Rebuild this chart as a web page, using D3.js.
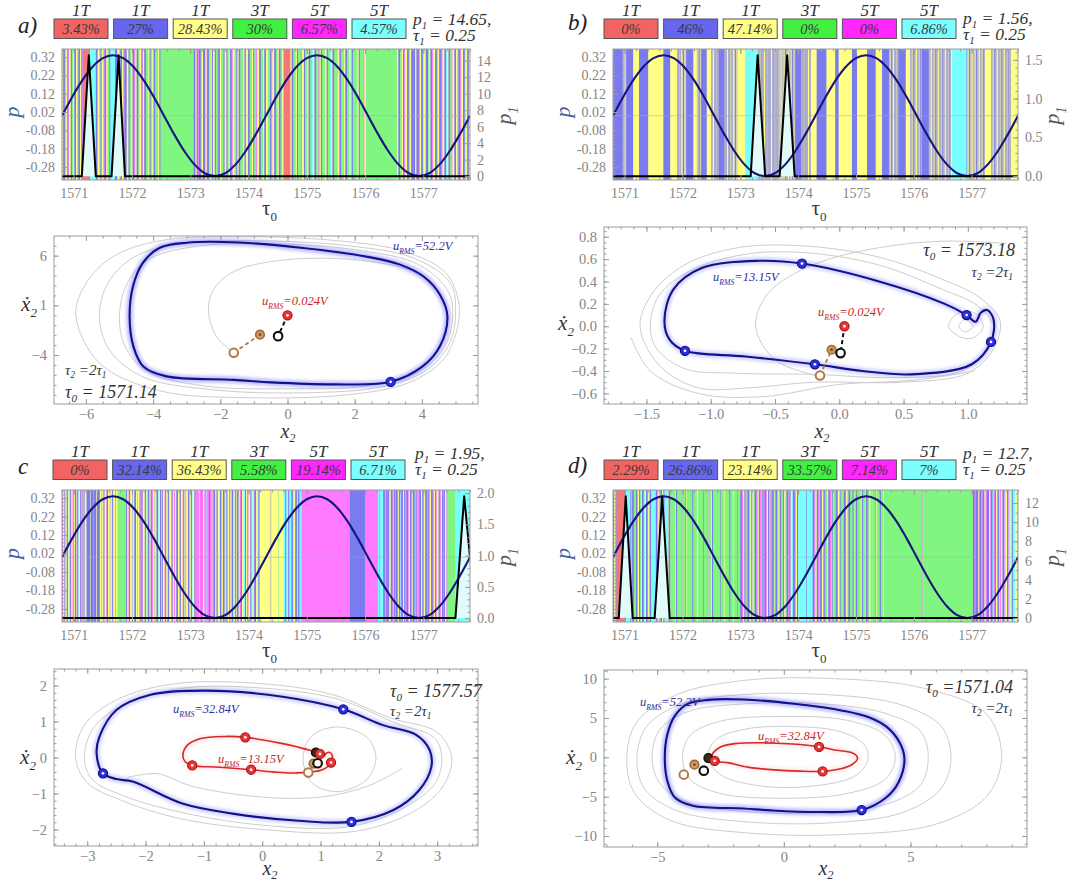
<!DOCTYPE html>
<html>
<head>
<meta charset="utf-8">
<script src="https://cdn.jsdelivr.net/npm/d3@7"></script>
<style>
  body { margin: 0; background: #fff; }
  svg { display: block; }
  text { font-family: "Liberation Serif", "DejaVu Serif", serif; }
</style>
</head>
<body>
<svg id="fig" width="1091" height="882"></svg>
<script>
// ---------------- data ----------------
const tauStart = 1570.8;        // first sample of the τ0 scan
const tauStep = 0.01;           // one sample of the regime strip
const tauTicks = [1571, 1572, 1573, 1574, 1575, 1576, 1577];
const pTicks = [0.32, 0.22, 0.12, 0.02, -0.08, -0.18, -0.28];
const tau1 = 0.25;

const regimeKeys = ["R", "B", "Y", "G", "M", "C"];
const regimeNames = ["1T", "1T", "1T", "3T", "5T", "5T"];

const sharesA = [3.43, 27, 28.43, 30, 6.57, 4.57];
const sharesB = [0, 46, 47.14, 0, 0, 6.86];
const sharesC = [0, 32.14, 36.43, 5.58, 19.14, 6.71];
const sharesD = [2.29, 26.86, 23.14, 33.57, 7.14, 7];

const p1MaxA = 14.65, p1MaxB = 1.56, p1MaxC = 1.95, p1MaxD = 12.7;
const p1TicksA = [0, 2, 4, 6, 8, 10, 12, 14];
const p1TicksB = [0, 0.5, 1.0, 1.5];
const p1TicksC = [0, 0.5, 1.0, 1.5, 2.0];
const p1TicksD = [0, 2, 4, 6, 8, 10, 12];

// regime of each τ0 sample, run-length coded (letter + number of samples)
const bandsA =
  "Y2 B3 G2 Y2 B2 M1 Y3 B2 G2 Y2 B3 Y2 G2 B3 Y2 B2 M1 R12 " +
  "C10 B3 Y3 G2 B2 Y3 M2 B3 Y2 G3 B2 C8 B4 Y3 G2 B3 Y2 M2 B4 Y3 B2 G3 Y2 B3 M2 Y2 B3 G2 Y3 B2 M1 Y2 B3 G4 Y2 B2 G3 Y2 B3 G5 Y2 B2 G4 G7 " +
  "G46 " +
  "B3 Y2 B2 M2 B3 G2 Y2 B4 Y2 M1 B3 G3 Y2 B2 Y3 B2 G2 M2 B3 Y2 G4 B2 Y3 B2 G2 Y2 B3 M2 Y3 G3 B2 Y2 B3 G5 Y2 B2 M1 Y3 B3 G4 Y2 B2 G3 M2 Y3 B3 G4 Y2 B3 Y3 G4 B2 M2 Y3 B3 G3 Y2 B3 G3 Y2 " +
  "R12 " +
  "Y2 B3 G4 Y2 B2 G5 M2 Y3 B2 G4 Y2 B3 G3 C2 Y2 B3 G4 M2 Y2 B2 G5 Y3 B2 G4 C2 Y2 B3 G6 Y2 M2 B2 G5 Y2 B3 G4 Y2 C2 B2 G8 Y2 B2 G6 M2 Y2 G9 " +
  "G45 " +
  "Y2 B3 G3 Y2 B2 M2 Y3 B3 G2 Y2 B4 " +
  "B3 Y2 B4 M2 Y2 B3 C2 Y3 B4 G2 Y2 B3 M2 Y3 B3 G2 Y2 B4 M2 Y3 B3 C2 Y2 B3 G2 M2 Y3 B3 Y2 G2 B3 M2 Y3 B3 C2 Y2 B3 Y2";

const bandsB =
  "B17 Y1 B1 Y1 B1 Y1 B1 B12 Y10 B16 Y26 B12 Y11 " +
  "Y1 B1 Y1 B2 Y1 B1 Y2 B1 Y1 B2 Y1 B1 Y1 B1 " +
  "B12 Y6 B1 Y1 B1 Y1 B2 Y1 B1 B9 Y8 " +
  "B1 Y1 B1 Y2 B1 Y1 B2 Y1 B1 Y1 B11 " +
  "Y1 B1 Y1 B1 Y2 B1 Y1 B2 Y1 B1 Y1 B1 Y2 B1 Y1 B2 Y1 B1 Y1 " +
  "Y12 C23 " +
  "B1 Y1 B1 Y1 B2 Y1 B1 Y1 B1 Y2 B1 Y1 B1 Y1 B2 Y1 B1 Y1 B1 Y2 B1 Y1 B1 Y1 B2 Y1 B1 Y1 B1 Y1 " +
  "B1 Y1 B1 Y1 B1 Y2 B1 Y1 B1 Y1 B2 Y1 B1 Y1 B1 Y2 B1 Y1 B1 Y1 B2 Y1 B1 Y1 B1 " +
  "B11 Y1 B1 Y1 B1 Y1 B2 Y1 B1 Y1 B1 Y2 B1 Y1 B1 Y1 " +
  "Y9 B17 Y15 B6 Y23 B9 Y17 B15 Y11 B12 " +
  "Y1 B1 Y1 B2 Y1 B1 Y2 B1 Y1 B2 Y1 B1 Y1 B1 " +
  "B12 Y8 B1 Y1 B1 Y1 B2 Y1 B1 Y1 B1 Y2 B1 Y1 B1 Y1 B2 Y1 B1 B12 " +
  "Y1 B1 Y1 B1 Y2 B1 Y1 B1 Y1 B2 Y1 B1 Y1 B1 Y2 B1 Y1 B1 Y1 B2 Y1 B1 Y1 B1 Y2 B1 Y1 B1 Y1 B2 Y1 B1 Y1 Y1 " +
  "C25 " +
  "B1 Y1 B1 Y1 B2 Y1 B1 Y1 B1 Y2 B1 Y1 B1 Y1 B2 Y1 B1 Y1 B1 Y2 B1 Y1 B1 Y1 B2 Y1 B1 " +
  "Y11 " +
  "B1 Y1 B1 Y1 B2 Y1 B1 Y1 B1 Y2 B1 Y1 B1 Y1 B2 Y1 B1 Y1 B1 Y2 B1 Y1 B1 Y1 B2 Y1 B1 Y1 B1 Y1 " +
  "Y22";

const bandsC =
  "M2 Y2 B1 M1 Y2 B2 C1 Y2 M1 B2 Y2 M1 B1 Y2 B2 M1 Y1 B2 C1 Y2 B1 M2 Y1 B2 Y1 B1 Y3 " +
  "B6 Y1 B5 M1 B4 Y1 B5 " +
  "Y3 B1 Y2 B2 Y3 M1 B2 Y3 B1 Y2 C1 B2 Y3 B1 Y3 " +
  "G15 " +
  "B2 Y2 M1 B2 Y3 B1 Y2 C1 B3 Y2 M1 Y3 B2 Y1 B2 M1 Y3 B2 C1 Y2 B3 " +
  "Y2 B2 M2 Y3 B1 Y2 B3 C1 Y2 B2 Y1 B2 Y3 M1 B2 Y2 G1 B2 Y3 C1 B2 Y2 " +
  "M2 Y2 B3 Y2 C1 B2 Y3 M1 B2 Y2 B1 Y3 B2 M1 Y2 B2 C1 Y3 B2 M2 " +
  "M4 Y1 M3 B1 M2 Y2 M4 C1 M3 B2 M3 Y1 M2 " +
  "B3 Y2 B2 C1 Y3 B2 M1 Y2 B3 Y1 C2 B2 Y3 B1 M1 Y2 B3 Y2 C1 B2 Y1 " +
  "B3 Y2 M2 B2 Y3 C2 B2 Y2 B1 M1 Y3 B2 C2 Y2 M1 B3 Y2 C2 B2 Y1 " +
  "Y18 B1 Y12 G1 Y8 " +
  "C3 B2 C2 Y1 B2 C3 M1 B2 C2 Y2 B3 C2 B2 M1 C3 " +
  "M83 B26 M22 C3 B1 C5 " +
  "B3 Y1 B2 M1 B3 C1 Y2 B3 M1 Y1 B2 M2 B3 Y2 B2 C1 M1 B3 Y2 B2 M2 " +
  "B3 M1 Y2 B2 M2 Y1 B3 C1 M2 B2 Y1 M2 B3 Y2 B2 M1 Y2 B3 C1 B2 M2 " +
  "Y2 B3 M2 Y2 B2 M1 Y3 B2 M2 Y2 B2 M1 B2 Y2 M1 " +
  "G15 C25";

const bandsD =
  "B2 Y1 G2 B1 R16 " +
  "C8 B2 Y1 B3 G2 Y1 B3 M1 Y2 B2 G2 Y1 B3 C2 Y2 " +
  "B3 Y2 G2 B2 C8 B3 Y2 M1 G2 B3 Y2 B2 C6 Y1 B3 G3 " +
  "G6 Y1 B2 G8 M1 G5 B1 Y1 G10 B2 G6 Y2 G9 B1 G7 M1 G5 Y1 B2 G12 B1 G6 Y1 G8 B2 G5 Y1 G6 B1 G4 " +
  "B3 M2 Y2 B2 G2 M2 B3 Y2 C1 B2 Y2 G2 B3 M2 Y2 B2 M2 G2 B2 " +
  "M2 B3 M1 Y2 B2 G2 M3 B3 Y1 G2 " +
  "B3 G2 Y2 B2 M1 G3 B2 Y2 G2 B3 " +
  "M2 B2 Y2 C2 B3 M2 Y2 B2 C2 " +
  "C12 B1 C10 " +
  "B3 M2 Y2 B3 M1 G2 B3 Y2 M2 B2 G3 Y2 B3 M2 G2 " +
  "B2 Y1 G3 B3 M1 Y2 G2 B2 Y1 G3 B3 M1 Y2 G2 B3 " +
  "G4 B2 Y1 G3 B2 M1 G5 Y2 B2 G4 Y1 B3 G2 M1 Y2 G3 " +
  "G6 B1 Y1 G5 B2 G4 Y1 G4 " +
  "G62 B1 Y1 G86 " +
  "B3 M2 B4 Y1 M2 B3 C1 M1 B3 Y2 M2 B4 Y2 M1 B3 C2 M2 B2 Y2 M1 B2 " +
  "C2 M2 Y2 B3 M1 C2 Y2 B2 M1 C3 Y2 B2 C4 Y3 C4";

// drive amplitude p over the τ0 scan (same for every case)
const pCurve = [
  [1570.800, 0], [1570.975, 0.102], [1571.150, 0.194], [1571.325, 0.267], [1571.500, 0.314],
  [1571.675, 0.330], [1571.850, 0.314], [1572.025, 0.267], [1572.200, 0.194], [1572.375, 0.102],
  [1572.550, 0], [1572.725, -0.102], [1572.900, -0.194], [1573.075, -0.267], [1573.250, -0.314],
  [1573.425, -0.330], [1573.600, -0.314], [1573.775, -0.267], [1573.950, -0.194], [1574.125, -0.102],
  [1574.300, 0], [1574.475, 0.102], [1574.650, 0.194], [1574.825, 0.267], [1575.000, 0.314],
  [1575.175, 0.330], [1575.350, 0.314], [1575.525, 0.267], [1575.700, 0.194], [1575.875, 0.102],
  [1576.050, 0], [1576.225, -0.102], [1576.400, -0.194], [1576.575, -0.267], [1576.750, -0.314],
  [1576.925, -0.330], [1577.100, -0.314], [1577.275, -0.267], [1577.450, -0.194], [1577.625, -0.102],
  [1577.800, 0]
];

// impulse amplitude p1 over τ0
const p1A = [[1570.8, 0], [1571.14, 0], [1571.26, 14.65], [1571.38, 0], [1571.65, 0], [1571.77, 14.65], [1571.88, 0], [1577.8, 0]];
const p1B = [[1570.8, 0], [1573.18, 0], [1573.30, 1.56], [1573.43, 0], [1573.68, 0], [1573.81, 1.56], [1573.94, 0], [1577.8, 0]];
const p1C = [[1570.8, 0], [1577.55, 0], [1577.70, 1.95], [1577.8, 0.97]];
const p1D = [[1570.8, 0], [1570.90, 0], [1571.02, 12.7], [1571.14, 0], [1571.52, 0], [1571.65, 12.7], [1571.78, 0], [1577.8, 0]];

// attracting orbits in the (x2, dx2/dτ) plane
const orbit52 = [[-4.7, -0.1], [-4.6, 2.9], [-4.3, 5.3], [-3.8, 6.8], [-3.0, 7.3], [-1.6, 7.35], [0.4, 6.8], [2.36, 5.9],
  [3.35, 5.1], [4.05, 3.9], [4.55, 2.0], [4.76, -0.1], [4.54, -3.1], [4.04, -5.1], [3.07, -6.7], [1.36, -6.95],
  [-0.5, -6.75], [-1.6, -6.5], [-3.6, -6.15], [-4.29, -5.15], [-4.59, -3.1]];
const orbit52Marks = [[3.07, -6.7]];

const orbit32 = [[-2.84, 0.12], [-2.79, 0.58], [-2.5, 1.32], [-1.93, 1.74], [-0.96, 1.86], [0.35, 1.69], [1.39, 1.34],
  [2.07, 0.9], [2.64, 0.63], [2.87, 0.21], [2.9, -0.26], [2.69, -0.91], [2.25, -1.46], [1.53, -1.79], [0.63, -1.76],
  [-0.51, -1.56], [-1.37, -1.28], [-2.22, -0.67], [-2.5, -0.6], [-2.73, -0.44]];
const orbit32Marks = [[1.39, 1.34], [-2.73, -0.44], [1.53, -1.79]];

const orbit13 = [[-1.36, 0.05], [-1.29, 0.33], [-1.07, 0.52], [-0.63, 0.585], [-0.29, 0.56], [0.31, 0.40], [0.82, 0.20],
  [0.99, 0.10], [1.06, 0.04], [1.10, 0.12], [1.15, 0.145], [1.2, 0.06], [1.18, -0.14], [1.03, -0.34], [0.56, -0.43],
  [0.18, -0.40], [-0.19, -0.34], [-0.73, -0.27], [-1.2, -0.22], [-1.32, -0.12]];
const orbit13Marks = [[-0.29, 0.56], [0.99, 0.10], [1.18, -0.14], [-0.19, -0.34], [-1.2, -0.22]];

// neighbouring trajectories (closed loops and open arcs)
const grayLoopsA = [
  [[-6.3, 0], [-6.0, 3.2], [-5.2, 5.9], [-3.8, 7.5], [-1.5, 7.9], [1.5, 7.5], [3.5, 6.4], [4.7, 4.3], [5.1, 1.2], [5.0, -2], [4.6, -4.6], [3.6, -6.8], [1.8, -8.0], [-1, -8.3], [-3.8, -7.6], [-5.6, -4.8]],
  [[-5.6, 0], [-5.35, 3.2], [-4.6, 5.8], [-3.2, 7.2], [-1, 7.5], [1.8, 7.0], [3.8, 5.7], [4.85, 3.2], [5.0, 0], [4.8, -3], [4.1, -5.6], [2.8, -7.2], [0.5, -7.8], [-2.2, -7.5], [-4.3, -6.2], [-5.3, -3.5]],
  [[-5.0, 0], [-4.8, 3], [-4.2, 5.5], [-2.8, 6.9], [-0.5, 7.2], [2, 6.6], [3.9, 5.1], [4.8, 2.3], [4.9, -0.8], [4.6, -3.6], [3.8, -5.9], [2.4, -7.1], [0, -7.4], [-2.5, -7.1], [-4.2, -5.6], [-4.85, -3]]
];
const grayArcsA = [
  [[-1.6, -3.77], [-2.1, -2.2], [-2.35, 0.3], [-2.2, 2.6], [-1.6, 4.4], [-0.5, 5.4], [1, 5.75], [2.5, 5.4], [3.6, 4.6], [4.3, 3.3], [4.6, 1.5]]
];
const grayLoopsB = [
  [[-1.55, 0], [-1.45, 0.3], [-1.2, 0.55], [-0.8, 0.7], [-0.3, 0.72], [0.3, 0.62], [0.8, 0.42], [1.1, 0.25], [1.25, 0.05], [1.2, -0.2], [1.0, -0.42], [0.5, -0.5], [-0.2, -0.5], [-0.7, -0.55], [-1.1, -0.55], [-1.4, -0.35]],
  [[-1.47, 0], [-1.4, 0.28], [-1.15, 0.5], [-0.75, 0.64], [-0.3, 0.66], [0.3, 0.55], [0.8, 0.33], [1.08, 0.18], [1.2, 0.0], [1.16, -0.2], [0.95, -0.4], [0.45, -0.46], [-0.2, -0.43], [-0.8, -0.42], [-1.2, -0.38], [-1.42, -0.2]],
  [[0.85, 0], [0.93, 0.12], [1.05, 0.12], [1.12, 0], [1.05, -0.1], [0.95, -0.1]],
  [[0.93, 0], [0.98, 0.06], [1.04, 0], [0.98, -0.05]]
];
const grayArcsB = [
  [[-1.62, -0.1], [-1.47, -0.4], [-1.1, -0.6], [-0.6, -0.63], [0, -0.52], [0.6, -0.48], [1.05, -0.4]],
  [[-0.15, -0.45], [-0.5, -0.3], [-0.65, 0], [-0.55, 0.3], [-0.2, 0.55], [0.3, 0.7], [0.8, 0.76], [1.3, 0.74]]
];
const grayLoopsC = [
  [[-3.2, 0], [-3.05, 0.9], [-2.5, 1.6], [-1.5, 2.05], [0, 2.05], [1.2, 1.75], [2.2, 1.1], [3.0, 0.7], [3.25, 0], [3.1, -0.8], [2.6, -1.5], [1.6, -2.05], [0, -2.0], [-1.4, -1.7], [-2.4, -1.2], [-3.0, -0.7]],
  [[-3.05, 0], [-2.9, 0.8], [-2.4, 1.45], [-1.4, 1.92], [0, 1.93], [1.3, 1.62], [2.3, 0.95], [2.95, 0.55], [3.08, 0], [2.97, -0.7], [2.45, -1.38], [1.5, -1.92], [0, -1.88], [-1.4, -1.52], [-2.4, -1.05], [-2.92, -0.6]],
  [[0.7, 0], [0.85, 0.6], [1.3, 0.85], [1.8, 0.55], [1.95, 0], [1.8, -0.6], [1.3, -0.95], [0.85, -0.7]]
];
const grayArcsC = [
  [[-2.3, -0.55], [-1.8, -0.45], [-1.2, -0.8], [0, -1.1], [1.0, -1.1], [1.8, -0.8], [2.4, -0.3]]
];
const grayLoopsD = [
  [[-6.2, 0], [-5.8, 4.5], [-4.2, 8], [-1.5, 9.8], [2, 10], [5.5, 8.8], [8, 5.5], [8.6, 0], [8.0, -5], [6, -8.5], [2.5, -9.8], [-1.5, -9.6], [-4.5, -8], [-5.9, -4.5]],
  [[-5.8, 0], [-5.4, 4], [-4, 6.8], [-1.5, 8], [1.5, 8], [4.5, 6.8], [6.2, 4], [6.6, 0], [6.2, -4], [4.7, -7], [2, -8.3], [-1.5, -8.2], [-4.2, -6.8], [-5.5, -4]],
  [[-5.2, 0], [-4.9, 3.5], [-3.8, 5.8], [-1.5, 6.8], [1.5, 6.8], [4, 5.6], [5.4, 3.3], [5.7, 0], [5.4, -3.5], [4.1, -5.9], [1.5, -7], [-1.5, -6.9], [-3.8, -5.7], [-4.9, -3.3]],
  [[-4, 0], [-3.7, 2.8], [-2.5, 4.6], [0, 5.2], [2.5, 4.7], [4, 2.8], [4.4, 0], [4, -2.8], [2.5, -4.6], [0, -5.2], [-2.5, -4.6], [-3.7, -2.8]],
  [[-3.0, 0], [-2.7, 2.2], [-1.5, 3.6], [0.5, 3.9], [2.3, 3.2], [3.2, 1.5], [3.3, -0.5], [2.8, -2.4], [1, -3.7], [-1, -3.6], [-2.5, -2.2]]
];
const grayArcsD = [];

// initial states and their first iterates
const seedsA = [["brownOpen", -1.6, -3.77], ["brown", -0.82, -1.95], ["black", -0.28, -2.1], ["red", 0, 0]];
const seedsB = [["brownOpen", -0.15, -0.44], ["brown", -0.06, -0.21], ["black", 0.01, -0.24], ["red", 0.04, 0]];
const seedsC = [["brownOpen", 0.79, -0.42], ["brown", 0.88, -0.17], ["black", 0.95, -0.16], ["blackFilled", 0.92, 0.14]];
const seedsD = [["brownOpen", -3.95, -2.2], ["brown", -3.53, -0.93], ["black", -3.16, -1.7], ["blackFilled", -2.98, -0.1]];
const dashesA = [["black", [0, 0], [-0.28, -2.1]], ["brown", [-1.6, -3.77], [-0.82, -1.95]]];
const dashesB = [["black", [0.04, 0], [0.01, -0.24]], ["brown", [-0.15, -0.44], [-0.06, -0.21]]];

// ---------------- styles ----------------
const bandColor = { R: "#f47878", B: "#7b7bf0", Y: "#ffff85", G: "#80f580", M: "#ff7aff", C: "#7affff" };
const boxColor = { R: "#f26464", B: "#6666ee", Y: "#ffff88", G: "#42f042", M: "#ff26ff", C: "#7cffff" };
const orbitStroke = { blue: "#12128c", red: "#d22a2a" };
const orbitHalo = { blue: "#7474ff", red: "#ff8a8a" };
const labelGray = "#858585";
const frameGray = "#9c9c9c";

const svg = d3.select("#fig");
const defs = svg.append("defs");
defs.append("filter").attr("id", "soft").attr("x", "-5%").attr("y", "-5%").attr("width", "110%").attr("height", "110%")
  .append("feGaussianBlur").attr("stdDeviation", 1.4);

function rich(sel, x, y, parts, size, opts = {}) {
  const t = sel.append("text")
    .attr("x", x).attr("y", y)
    .attr("font-size", size)
    .attr("font-style", opts.italic === false ? "normal" : "italic")
    .attr("fill", opts.fill || "#333")
    .attr("text-anchor", opts.anchor || "start");
  if (opts.transform) t.attr("transform", opts.transform);
  const drop = opts.sub == null ? 0.3 : opts.sub;
  let shift = 0;
  parts.forEach(([str, kind]) => {
    const s = t.append("tspan").text(str);
    const target = kind === "sub" ? size * drop : 0;
    if (target !== shift) { s.attr("dy", target - shift); shift = target; }
    if (kind === "sub") s.attr("font-size", size * 0.62);
  });
  return t;
}

function parseRuns(str) {
  const runs = [];
  let pos = 0;
  for (const m of str.matchAll(/([RBYGMC])(\d*)/g)) {
    const n = m[2] ? +m[2] : 1;
    runs.push({ key: m[1], start: pos, count: n });
    pos += n;
  }
  return runs;
}

function styleAxis(g, size) {
  g.select(".domain").remove();
  g.selectAll(".tick line").attr("stroke", frameGray).attr("stroke-width", 1);
  g.selectAll(".tick text").attr("fill", labelGray).attr("font-size", size)
    .attr("font-family", "'Liberation Serif', serif");
}

function minorRange(lo, hi, step) {
  const out = [];
  const k0 = Math.ceil(lo / step - 1e-9), k1 = Math.floor(hi / step + 1e-9);
  for (let k = k0; k <= k1; k++) out.push(+(k * step).toFixed(6));
  return out;
}

function frameAxes(g, x, y, box, o) {
  const mk = (axis, tr) => g.append("g").attr("transform", tr).call(axis);
  // minor ticks on all four sides
  const xm = minorRange(x.domain()[0], x.domain()[1], o.xMinor);
  const ym = minorRange(Math.min(...y.domain()), Math.max(...y.domain()), o.yMinor);
  styleAxis(mk(d3.axisBottom(x).tickValues(xm).tickSize(-2.5).tickFormat(""), `translate(0,${box.bottom})`), 13);
  styleAxis(mk(d3.axisTop(x).tickValues(xm).tickSize(-2.5).tickFormat(""), `translate(0,${box.top})`), 13);
  styleAxis(mk(d3.axisLeft(y).tickValues(ym).tickSize(-2.5).tickFormat(""), `translate(${box.left},0)`), 13);
  if (!o.yRight) styleAxis(mk(d3.axisRight(y).tickValues(ym).tickSize(-2.5).tickFormat(""), `translate(${box.right},0)`), 13);
  // major ticks with labels
  styleAxis(mk(d3.axisBottom(x).tickValues(o.xTicks).tickSize(-5).tickPadding(o.xPad).tickFormat(o.xFmt), `translate(0,${box.bottom})`), o.font);
  styleAxis(mk(d3.axisTop(x).tickValues(o.xTicks).tickSize(-5).tickFormat(""), `translate(0,${box.top})`), o.font);
  styleAxis(mk(d3.axisLeft(y).tickValues(o.yTicks).tickSize(-5).tickPadding(o.yPad).tickFormat(o.yFmt), `translate(${box.left},0)`), o.font);
  if (!o.yRight) styleAxis(mk(d3.axisRight(y).tickValues(o.yTicks).tickSize(-5).tickFormat(""), `translate(${box.right},0)`), o.font);
  g.append("rect").attr("x", box.left).attr("y", box.top)
    .attr("width", box.right - box.left).attr("height", box.bottom - box.top)
    .attr("fill", "none").attr("stroke", frameGray).attr("stroke-width", 1);
}

// ---------------- regime strip with p(τ0) and p1(τ0) ----------------
function drawStrip(cfg) {
  const g = svg.append("g");
  const b = cfg.strip;
  const x = d3.scaleLinear().domain([1570.8, 1577.8]).range([b.left, b.right]);
  const yP = d3.scaleLinear().domain([-0.351, 0.364]).range([b.bottom, b.top]);
  const yR = d3.scaleLinear().domain([0, cfg.p1Max]).range([yP(-0.33), yP(0.33)]);

  const clipId = "strip-" + cfg.key;
  defs.append("clipPath").attr("id", clipId).append("rect")
    .attr("x", b.left).attr("y", b.top).attr("width", b.right - b.left).attr("height", b.bottom - b.top);
  const plot = g.append("g").attr("clip-path", `url(#${clipId})`);

  const runs = parseRuns(cfg.bands);
  plot.selectAll("rect.band").data(runs).join("rect").attr("class", "band")
    .attr("x", d => x(tauStart + d.start * tauStep))
    .attr("width", d => x(tauStart + (d.start + d.count) * tauStep) - x(tauStart + d.start * tauStep) + 0.35)
    .attr("y", b.top).attr("height", b.bottom - b.top)
    .attr("fill", d => bandColor[d.key]);

  plot.append("path").datum(cfg.p1)
    .attr("d", d3.area().x(d => x(d[0])).y0(yR(0)).y1(d => yR(d[1])))
    .attr("fill", "#e1fbfb");

  plot.append("line").attr("x1", b.left).attr("x2", b.right)
    .attr("y1", yP(0)).attr("y2", yP(0)).attr("stroke", "#a9a9a9").attr("stroke-opacity", 0.55);

  plot.append("path").datum(pCurve)
    .attr("d", d3.line().x(d => x(d[0])).y(d => yP(d[1])).curve(d3.curveCatmullRom.alpha(0.5)))
    .attr("fill", "none").attr("stroke", "#15157c").attr("stroke-width", 2.1);

  plot.append("path").datum(cfg.p1)
    .attr("d", d3.line().x(d => x(d[0])).y(d => yR(d[1])))
    .attr("fill", "none").attr("stroke", "#000").attr("stroke-width", 2).attr("stroke-linejoin", "round");

  frameAxes(g, x, yP, b, {
    xTicks: tauTicks, xFmt: d3.format("d"), xMinor: 0.2, xPad: 8,
    yTicks: pTicks, yFmt: d => d.toFixed(2), yMinor: 0.02, yPad: 7, font: 14, yRight: true
  });
  const rm = minorRange(0, yR.invert(b.top), cfg.p1Minor);
  const ra = g.append("g").attr("transform", `translate(${b.right},0)`)
    .call(d3.axisRight(yR).tickValues(rm).tickSize(-2.5).tickFormat(""));
  styleAxis(ra, 13);
  const rb = g.append("g").attr("transform", `translate(${b.right},0)`)
    .call(d3.axisRight(yR).tickValues(cfg.p1Ticks).tickSize(-5).tickPadding(7).tickFormat(cfg.p1Fmt));
  styleAxis(rb, 14);

  // axis titles
  rich(g, (b.left + b.right) / 2 - 4, b.bottom + 35, [["τ"], ["0", "sub"]], 21, { italic: false, fill: "#3a3a3a" });
  rich(g, 0, 0, [["p"]], 22, { fill: "#3d5fa3", anchor: "middle", transform: `translate(${b.left - 43},${yP(0.02)}) rotate(-90)` });
  rich(g, 0, 0, [["p"], ["1", "sub"]], 22, { fill: "#555", anchor: "middle", transform: `translate(${b.right + 41},${yP(0.0)}) rotate(-90)` });
  return g;
}

// ---------------- legend row ----------------
function drawLegend(cfg) {
  const g = svg.append("g");
  const L = cfg.legend;
  rich(g, L.tagX, L.tagY, [[cfg.tag]], 23, { fill: "#222" });
  regimeKeys.forEach((k, i) => {
    const x0 = L.x + i * 59.6;
    rich(g, x0 + 27, L.y - 3.5, [[regimeNames[i]]], 17, { anchor: "middle", fill: "#333" });
    g.append("rect").attr("x", x0).attr("y", L.y).attr("width", 54).attr("height", 19.5)
      .attr("fill", boxColor[k]).attr("stroke", "#555").attr("stroke-width", 1);
    rich(g, x0 + 27, L.y + 15, [[cfg.shares[i] + "%"]], 14.5, { anchor: "middle", fill: "#3a3a3a" });
  });
  rich(g, L.px, L.pY, [["p"], ["1", "sub"], [" = " + cfg.p1Max + ","]], 17.5, { fill: "#333", sub: 0.2 });
  rich(g, L.px, L.pY + 16, [["τ"], ["1", "sub"], [" = " + tau1.toFixed(2)]], 17.5, { fill: "#333", sub: 0.2 });
}

// ---------------- phase portrait ----------------
function drawPhase(cfg) {
  const g = svg.append("g");
  const P = cfg.phase;
  const b = P.box;
  const x = d3.scaleLinear().domain(P.xDom).range([b.left, b.right]);
  const y = d3.scaleLinear().domain(P.yDom).range([b.bottom, b.top]);
  const clipId = "phase-" + cfg.key;
  defs.append("clipPath").attr("id", clipId).append("rect")
    .attr("x", b.left).attr("y", b.top).attr("width", b.right - b.left).attr("height", b.bottom - b.top);
  const plot = g.append("g").attr("clip-path", `url(#${clipId})`);
  const closed = d3.line().x(d => x(d[0])).y(d => y(d[1])).curve(d3.curveCatmullRomClosed.alpha(0.5));
  const open = d3.line().x(d => x(d[0])).y(d => y(d[1])).curve(d3.curveCatmullRom.alpha(0.5));

  P.loops.forEach(pts => plot.append("path").attr("d", closed(pts))
    .attr("fill", "none").attr("stroke", "#cdcdcd").attr("stroke-width", 1));
  P.arcs.forEach(pts => plot.append("path").attr("d", open(pts))
    .attr("fill", "none").attr("stroke", "#cdcdcd").attr("stroke-width", 1));

  P.orbits.forEach(o => {
    plot.append("path").attr("d", closed(o.pts)).attr("fill", "none")
      .attr("stroke", orbitHalo[o.color]).attr("stroke-opacity", o.halo).attr("stroke-width", 7)
      .attr("filter", "url(#soft)");
    plot.append("path").attr("d", closed(o.pts)).attr("fill", "none")
      .attr("stroke", orbitStroke[o.color]).attr("stroke-width", o.color === "blue" ? 2.1 : 1.6);
  });

  (P.dashes || []).forEach(([kind, a, c]) => plot.append("line")
    .attr("x1", x(a[0])).attr("y1", y(a[1])).attr("x2", x(c[0])).attr("y2", y(c[1]))
    .attr("stroke", kind === "black" ? "#111" : "#a8733f").attr("stroke-width", kind === "black" ? 2 : 1.6)
    .attr("stroke-dasharray", "4,3"));

  const drawMark = (type, px, py) => {
    const cx = x(px), cy = y(py);
    if (type === "blue" || type === "red") {
      plot.append("circle").attr("cx", cx).attr("cy", cy).attr("r", 4.6)
        .attr("fill", type === "blue" ? "#2c2ce0" : "#ea3434")
        .attr("stroke", type === "blue" ? "#0d0d7a" : "#a51414").attr("stroke-width", 1.1);
      plot.append("circle").attr("cx", cx).attr("cy", cy).attr("r", 1.4).attr("fill", "#fff");
    } else if (type === "black") {
      plot.append("circle").attr("cx", cx).attr("cy", cy).attr("r", 4.3)
        .attr("fill", "#fff").attr("stroke", "#111").attr("stroke-width", 2.1);
    } else if (type === "blackFilled") {
      plot.append("circle").attr("cx", cx).attr("cy", cy).attr("r", 4.3)
        .attr("fill", "#3a2a1a").attr("stroke", "#111").attr("stroke-width", 1.5);
    } else if (type === "brown") {
      plot.append("circle").attr("cx", cx).attr("cy", cy).attr("r", 4.3)
        .attr("fill", "#d09a66").attr("stroke", "#9c6a38").attr("stroke-width", 1.6);
      plot.append("circle").attr("cx", cx).attr("cy", cy).attr("r", 1.4).attr("fill", "#7a4a22");
    } else if (type === "brownOpen") {
      plot.append("circle").attr("cx", cx).attr("cy", cy).attr("r", 4.3)
        .attr("fill", "#fff").attr("stroke", "#b07a45").attr("stroke-width", 2);
    }
  };
  P.seeds.forEach(([t, px, py]) => drawMark(t, px, py));
  P.orbits.forEach(o => o.marks.forEach(([px, py]) => drawMark(o.color, px, py)));

  frameAxes(g, x, y, b, {
    xTicks: P.xTicks, xFmt: P.xFmt, xMinor: P.xMinor, xPad: 5,
    yTicks: P.yTicks, yFmt: P.yFmt, yMinor: P.yMinor, yPad: 7, font: 14.5
  });

  // axis titles
  rich(g, P.xLab[0], P.xLab[1], [["x"], ["2", "sub"]], 20, { fill: "#333", anchor: "middle", sub: 0.2 });
  rich(g, P.yLab[0], P.yLab[1], [["ẋ"], ["2", "sub"]], 21, { fill: "#333", anchor: "middle" });

  // amplitude annotations
  P.notes.forEach(n => rich(g, n.x, n.y, [["u"], ["RMS", "sub"], ["=" + n.value + "V"]], 12.5,
    { fill: n.color === "blue" ? "#2e2e9c" : "#c62828" }));

  // timing annotations
  const T = P.times;
  rich(g, T.x0, T.y0, [["τ"], ["0", "sub"], [T.sep + cfg.tau0]], 18, { fill: "#333", anchor: T.anchor, sub: 0.22 });
  rich(g, T.x2, T.y2, [["τ"], ["2", "sub"], [" =2τ"], ["1", "sub"]], 15, { fill: "#333", anchor: T.anchor, sub: 0.22 });
}

// ---------------- panels ----------------
const fmt1 = d3.format(".1f");
const panels = [
  {
    key: "a", tag: "a)", shares: sharesA, bands: bandsA, p1: p1A, p1Max: p1MaxA, p1Ticks: p1TicksA,
    p1Fmt: d3.format("d"), p1Minor: 1, tau0: "1571.14",
    strip: { left: 62, top: 49, right: 470, bottom: 180 },
    legend: { tagX: 18, tagY: 33, x: 54, y: 19, px: 413, pY: 25 },
    phase: {
      box: { left: 54, top: 236, right: 478, bottom: 404 },
      xDom: [-6.95, 5.67], yDom: [-8.93, 7.98],
      xTicks: [-6, -4, -2, 0, 2, 4], yTicks: [6, 1, -4], xFmt: d3.format("d"), yFmt: d3.format("d"),
      xMinor: 0.5, yMinor: 1,
      loops: grayLoopsA, arcs: grayArcsA,
      orbits: [{ pts: orbit52, marks: orbit52Marks, color: "blue", halo: 0.45 }],
      seeds: seedsA, dashes: dashesA,
      notes: [{ x: 393, y: 250, color: "blue", value: "52.2" }, { x: 262, y: 305, color: "red", value: "0.024" }],
      times: { anchor: "start", x0: 65, y0: 398, x2: 65, y2: 375, sep: " = " },
      xLab: [288, 438], yLab: [29, 311]
    }
  },
  {
    key: "b", tag: "b)", shares: sharesB, bands: bandsB, p1: p1B, p1Max: p1MaxB, p1Ticks: p1TicksB,
    p1Fmt: fmt1, p1Minor: 0.1, tau0: "1573.18",
    strip: { left: 613, top: 49, right: 1018, bottom: 180 },
    legend: { tagX: 568, tagY: 30, x: 604, y: 19, px: 963, pY: 24 },
    phase: {
      box: { left: 604, top: 227, right: 1027, bottom: 404 },
      xDom: [-1.83, 1.46], yDom: [-0.695, 0.887],
      xTicks: [-1.5, -1.0, -0.5, 0, 0.5, 1.0], yTicks: [0.8, 0.6, 0.4, 0.2, 0, -0.2, -0.4, -0.6], xFmt: fmt1, yFmt: fmt1,
      xMinor: 0.1, yMinor: 0.05,
      loops: grayLoopsB, arcs: grayArcsB,
      orbits: [{ pts: orbit13, marks: orbit13Marks, color: "blue", halo: 0.3 }],
      seeds: seedsB, dashes: dashesB,
      notes: [{ x: 713, y: 281, color: "blue", value: "13.15" }, { x: 818, y: 316, color: "red", value: "0.024" }],
      times: { anchor: "end", x0: 1015, y0: 256, x2: 1013, y2: 277, sep: " = " },
      xLab: [822, 438], yLab: [566, 330]
    }
  },
  {
    key: "c", tag: "c", shares: sharesC, bands: bandsC, p1: p1C, p1Max: p1MaxC, p1Ticks: p1TicksC,
    p1Fmt: fmt1, p1Minor: 0.1, tau0: "1577.57",
    strip: { left: 62, top: 490, right: 470, bottom: 622 },
    legend: { tagX: 18, tagY: 474, x: 53, y: 460, px: 415, pY: 459 },
    phase: {
      box: { left: 54, top: 669, right: 478, bottom: 846 },
      xDom: [-3.57, 3.70], yDom: [-2.46, 2.46],
      xTicks: [-3, -2, -1, 0, 1, 2, 3], yTicks: [2, 1, 0, -1, -2], xFmt: d3.format("d"), yFmt: d3.format("d"),
      xMinor: 0.2, yMinor: 0.2,
      loops: grayLoopsC, arcs: grayArcsC,
      orbits: [
        { pts: orbit32, marks: orbit32Marks, color: "blue", halo: 0.3 },
        { pts: orbit13, marks: orbit13Marks, color: "red", halo: 0.15 }
      ],
      seeds: seedsC, dashes: [],
      notes: [{ x: 173, y: 713, color: "blue", value: "32.84" }, { x: 218, y: 763, color: "red", value: "13.15" }],
      times: { anchor: "start", x0: 390, y0: 697, x2: 390, y2: 716, sep: " = " },
      xLab: [270, 875], yLab: [28, 764]
    }
  },
  {
    key: "d", tag: "d)", shares: sharesD, bands: bandsD, p1: p1D, p1Max: p1MaxD, p1Ticks: p1TicksD,
    p1Fmt: d3.format("d"), p1Minor: 1, tau0: "1571.04",
    strip: { left: 613, top: 490, right: 1018, bottom: 622 },
    legend: { tagX: 568, tagY: 473, x: 604, y: 460, px: 963, pY: 459 },
    phase: {
      box: { left: 604, top: 670, right: 1027, bottom: 847 },
      xDom: [-7.1, 9.6], yDom: [-11.4, 11.1],
      xTicks: [-5, 0, 5], yTicks: [10, 5, 0, -5, -10], xFmt: d3.format("d"), yFmt: d3.format("d"),
      xMinor: 1, yMinor: 1,
      loops: grayLoopsD, arcs: grayArcsD,
      orbits: [
        { pts: orbit52, marks: orbit52Marks, color: "blue", halo: 0.45 },
        { pts: orbit32, marks: orbit32Marks, color: "red", halo: 0.15 }
      ],
      seeds: seedsD, dashes: [],
      notes: [{ x: 640, y: 706, color: "blue", value: "52.2" }, { x: 758, y: 740, color: "red", value: "32.84" }],
      times: { anchor: "end", x0: 1013, y0: 693, x2: 1013, y2: 713, sep: " =" },
      xLab: [826, 875], yLab: [574, 764]
    }
  }
];

panels.forEach(cfg => {
  drawStrip(cfg);
  drawLegend(cfg);
  drawPhase(cfg);
});
</script>
</body>
</html>
